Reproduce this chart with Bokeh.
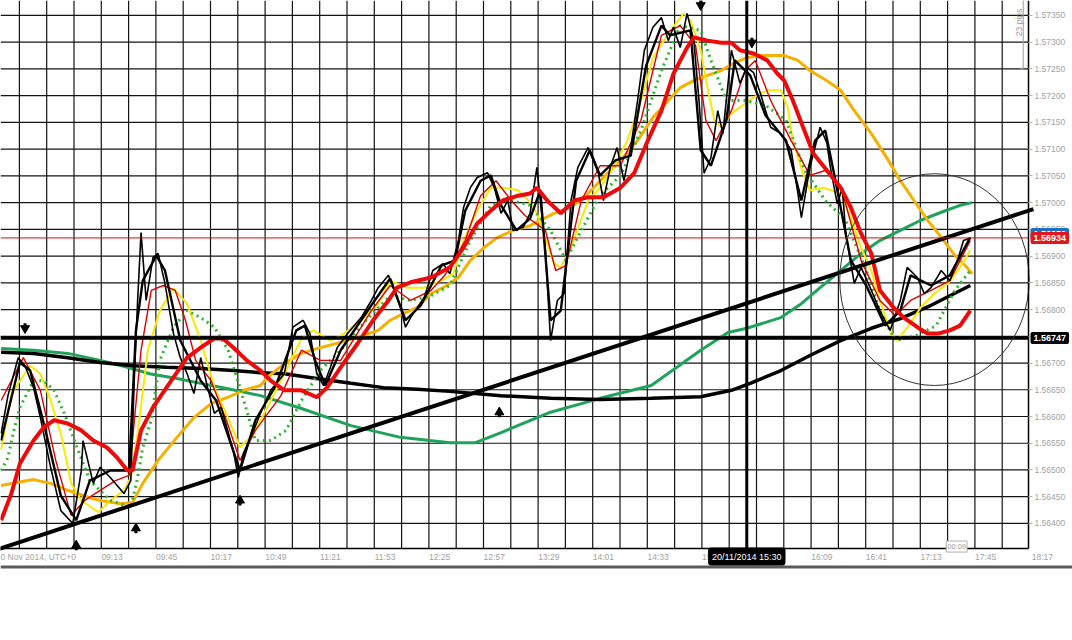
import math
from bokeh.plotting import figure
from bokeh.models import Range1d, FixedTicker, NumeralTickFormatter, Label
from bokeh.embed import file_html
from bokeh.resources import INLINE

# ---------------- data (time = minutes after 08:00, 20 Nov 2014) ----------------
price_t = [13,17,23,27,32,36,42,48,55,60, 61,67,71,77,85,89,91,93,95,98,
           102,105,109,114,118,122,126,130,134,138, 142,149,152,155,161,165,171,179,184,190,
           194,198,202,206,210,216,224,230,234,240, 243,247,250,253,261,266,272,276,281,284,
           288,292,298,302,306,310,313,319,323,327, 329,332,335,339,343,347,351,357,363,366,
           370,374,378,382,386,390,395,400,404,407, 411,415,419,422,425,429,433,436,441,446,
           450,454,458,464,470,476,480,482,487,493, 497,499,503,506,508,513,517,523,528,534,
           540,544,550,554,558,564,569,574,577,581]
price_v = [1.56568,1.56639,1.56710,1.56695,1.56654,1.56598,1.56505,1.56424,1.56400,1.56499,
           1.56555,1.56475,1.56505,1.56486,1.56456,1.56480,1.56667,1.56817,1.56944,1.56817,
           1.56897,1.56905,1.56849,1.56755,1.56710,1.56680,1.56643,1.56710,1.56654,1.56606,
           1.56617,1.56537,1.56486,1.56531,1.56574,1.56606,1.56649,1.56680,1.56767,1.56780,
           1.56755,1.56680,1.56658,1.56692,1.56729,1.56755,1.56785,1.56817,1.56841,1.56864,
           1.56841,1.56804,1.56767,1.56785,1.56823,1.56873,1.56886,1.56867,1.56929,1.56991,
           1.57028,1.57047,1.57056,1.57028,1.56980,1.57004,1.56948,1.56954,1.56980,1.57066,
           1.57004,1.56911,1.56742,1.56817,1.56830,1.57004,1.57066,1.57103,1.57055,1.57004,
           1.57066,1.57103,1.57041,1.57103,1.57191,1.57285,1.57328,1.57346,1.57303,1.57328,
           1.57290,1.57354,1.57303,1.57191,1.57055,1.57084,1.57172,1.57129,1.57285,1.57223,
           1.57253,1.57243,1.57204,1.57141,1.57129,1.57098,1.57017,1.56972,1.57066,1.57141,
           1.57111,1.57066,1.56998,1.57028,1.56942,1.56849,1.56879,1.56836,1.56798,1.56761,
           1.56817,1.56879,1.56860,1.56830,1.56841,1.56873,1.56854,1.56897,1.56929,1.56934]

fast_t = [13,24,30,39,48,57,65,77,88,92, 96,104,109,118,130,139,147,153,162,174,
          186,191,197,203,212,230,241,250,259,271, 279,285,294,300,306,315,323,329,335,341,
          350,358,364,373,382,391,400,405,417,423, 429,438,443,452,461,473,482,490,496,502,
          511,520,531,540,546,558,569,581]
fast_v = [1.56555,1.56701,1.56686,1.56574,1.56452,1.56406,1.56480,1.56499,1.56499,1.56761,
          1.56854,1.56901,1.56873,1.56742,1.56667,1.56630,1.56555,1.56499,1.56593,1.56658,
          1.56761,1.56770,1.56705,1.56658,1.56724,1.56808,1.56858,1.56780,1.56808,1.56882,
          1.56892,1.56985,1.57041,1.57051,1.56995,1.56948,1.56970,1.57023,1.56780,1.56798,
          1.57041,1.57098,1.57051,1.57079,1.57088,1.57256,1.57331,1.57313,1.57322,1.57098,
          1.57069,1.57154,1.57266,1.57238,1.57163,1.57116,1.57004,1.57116,1.57135,1.57041,
          1.56892,1.56845,1.56770,1.56798,1.56864,1.56845,1.56864,1.56935]

red_thin_t = [13,26,36,45,54,62,71,80,88,95, 101,108,115,121,127,136,145,153,162,177,
              189,200,212,230,241,253,265,273,285,294, 303,312,320,332,338,344,353,364,376,388,
              400,411,420,426,432,441,449,455,464,476, 487,496,505,517,528,537,546,558,569,581]
red_thin_v = [1.56630,1.56710,1.56649,1.56518,1.56415,1.56443,1.56462,1.56480,1.56490,1.56724,
              1.56836,1.56845,1.56836,1.56780,1.56705,1.56667,1.56593,1.56518,1.56574,1.56639,
              1.56724,1.56705,1.56705,1.56798,1.56845,1.56817,1.56836,1.56864,1.56929,1.57013,
              1.57041,1.57004,1.56976,1.56948,1.56873,1.56882,1.57004,1.57069,1.57069,1.57154,
              1.57313,1.57331,1.57294,1.57154,1.57116,1.57172,1.57247,1.57266,1.57191,1.57116,
              1.57051,1.57060,1.57032,1.56892,1.56817,1.56789,1.56817,1.56836,1.56854,1.56929]

yellow_t = [13,19,30,36,42,48,54,60,70,77, 85,89,93,99,106,114,122,130,138,146,
            153,161,171,180,189,196,206,214,224,234, 241,251,261,271,278,284,292,300,307,316,
            322,327,331,337,341,347,357,364,372,380, 388,395,404,413,417,423,427,431,435,441,
            446,454,462,470,474,477,483,487,495,505, 511,517,523,528,534,538,544,552,560,568,
            575,581]
yellow_v = [1.56537,1.56643,1.56695,1.56680,1.56630,1.56568,1.56475,1.56443,1.56421,1.56443,
            1.56462,1.56486,1.56568,1.56724,1.56798,1.56839,1.56811,1.56742,1.56654,1.56598,
            1.56542,1.56568,1.56630,1.56686,1.56746,1.56761,1.56742,1.56755,1.56780,1.56811,
            1.56854,1.56841,1.56841,1.56854,1.56867,1.56929,1.56985,1.57028,1.57028,1.57023,
            1.57004,1.56980,1.56942,1.56886,1.56879,1.56916,1.57004,1.57028,1.57066,1.57116,
            1.57191,1.57271,1.57316,1.57354,1.57341,1.57285,1.57215,1.57154,1.57141,1.57167,
            1.57178,1.57197,1.57210,1.57210,1.57178,1.57116,1.57055,1.57023,1.57028,1.57017,
            1.56972,1.56916,1.56873,1.56817,1.56761,1.56742,1.56766,1.56804,1.56830,1.56849,
            1.56879,1.56911]

dots_t = [13,17,20,24,32,38,44,50,57,65, 77,89,93,96,101,106,114,122,130,138,
          146,153,162,171,180,189,200,212,227,241, 253,265,276,288,300,312,323,335,344,353,
          364,376,388,400,411,423,429,438,449,461, 473,484,496,508,520,528,537,549,561,572,
          581]
dots_v = [1.56499,1.56523,1.56568,1.56617,1.56667,1.56667,1.56649,1.56606,1.56546,1.56480,
          1.56443,1.56430,1.56486,1.56542,1.56593,1.56705,1.56767,1.56798,1.56785,1.56767,
          1.56724,1.56654,1.56555,1.56555,1.56574,1.56630,1.56686,1.56724,1.56780,1.56826,
          1.56817,1.56826,1.56845,1.56929,1.56995,1.57004,1.56995,1.56948,1.56892,1.56948,
          1.57013,1.57051,1.57135,1.57247,1.57331,1.57322,1.57266,1.57191,1.57191,1.57182,
          1.57154,1.57060,1.57004,1.56967,1.56873,1.56798,1.56742,1.56751,1.56770,1.56836,
          1.56873]

red_thick_t = [13,19,24,32,38,44,52,60,67,75, 81,87,90,95,102,114,122,130,138,143,
               149,157,165,171,179,189,198,204,212,222, 231,240,245,253,265,276,284,292,300,307,
               316,323,327,333,341,349,357,366,376,384, 392,400,407,415,419,427,435,441,446,454,
               462,468,472,477,483,489,497,505,511,517, 523,528,536,542,550,556,562,569,575,581]
red_thick_v = [1.56406,1.56456,1.56512,1.56555,1.56580,1.56593,1.56587,1.56574,1.56555,1.56542,
               1.56523,1.56499,1.56499,1.56574,1.56617,1.56673,1.56710,1.56729,1.56746,1.56746,
               1.56729,1.56705,1.56686,1.56667,1.56649,1.56649,1.56636,1.56654,1.56692,1.56737,
               1.56780,1.56817,1.56841,1.56851,1.56860,1.56879,1.56916,1.56961,1.56985,1.57004,
               1.57013,1.57017,1.57028,1.57004,1.56980,1.57004,1.57010,1.57010,1.57028,1.57055,
               1.57116,1.57172,1.57241,1.57290,1.57309,1.57303,1.57299,1.57299,1.57285,1.57279,
               1.57266,1.57241,1.57228,1.57191,1.57141,1.57092,1.57060,1.57028,1.56991,1.56942,
               1.56905,1.56836,1.56804,1.56785,1.56767,1.56755,1.56755,1.56761,1.56770,1.56798]

orange_t = [13,23,32,42,52,64,71,83,90,96, 105,116,126,136,146,155,165,169,179,189,
            198,210,222,234,241,249,257,265,272,281, 288,296,304,313,323,337,347,357,366,376,
            386,395,404,411,419,427,435,442,450,458, 472,480,487,497,505,513,523,533,540,548,
            556,564,571,579,582]
orange_v = [1.56471,1.56477,1.56482,1.56475,1.56462,1.56449,1.56443,1.56437,1.56439,1.56475,
            1.56518,1.56561,1.56598,1.56624,1.56636,1.56649,1.56658,1.56673,1.56699,1.56718,
            1.56727,1.56737,1.56748,1.56761,1.56780,1.56793,1.56804,1.56830,1.56841,1.56860,
            1.56892,1.56916,1.56935,1.56948,1.56957,1.56980,1.56991,1.57017,1.57047,1.57079,
            1.57116,1.57159,1.57191,1.57215,1.57228,1.57238,1.57247,1.57260,1.57271,1.57275,
            1.57275,1.57266,1.57247,1.57228,1.57210,1.57172,1.57129,1.57079,1.57041,1.57004,
            1.56967,1.56935,1.56905,1.56879,1.56867]

green_t = [13,32,52,71,87,100,116,130,146,165, 189,218,247,276,291,306,335,364,394,423,
           439,450,470,482,493,505,517,528,540,552, 564,575,582]
green_v = [1.56727,1.56724,1.56718,1.56705,1.56692,1.56680,1.56671,1.56662,1.56652,1.56639,
           1.56615,1.56583,1.56561,1.56551,1.56551,1.56570,1.56608,1.56634,1.56658,1.56724,
           1.56757,1.56765,1.56785,1.56811,1.56841,1.56873,1.56905,1.56929,1.56948,1.56967,
           1.56982,1.56995,1.57000]

slow_t = [13,32,52,71,91,110,130,149,165,179, 198,218,237,257,276,306,335,364,394,423,
          441,452,470,487,505,523,540,558,581]
slow_v = [1.56720,1.56718,1.56710,1.56701,1.56695,1.56692,1.56690,1.56686,1.56682,1.56680,
          1.56671,1.56662,1.56654,1.56651,1.56647,1.56639,1.56634,1.56632,1.56634,1.56637,
          1.56649,1.56662,1.56686,1.56714,1.56742,1.56765,1.56783,1.56808,1.56845]

trend_t = [0, 618]
trend_v = [1.56340, 1.56988]
level_price = 1.56747
last_price = 1.56934
cursor_t = 450
cursor_label = "20/11/2014 15:30"
circle_t, circle_v, circle_w, circle_h = 560, 1.56856, 111, 0.00396
up_t = [57, 92, 153, 305]
up_v = [1.56359, 1.56391, 1.56443, 1.56608]
down_t = [27, 423, 453]
down_v = [1.56765, 1.57369, 1.57299]
ruler_t = 612
ruler_v = [1.57250, 1.57400]
ruler_text = "23 pips"

price_ticks = [1.56400, 1.56450, 1.56500, 1.56550, 1.56600, 1.56650, 1.56700, 1.56750,
               1.56800, 1.56850, 1.56900, 1.56950, 1.57000, 1.57050, 1.57100, 1.57150,
               1.57200, 1.57250, 1.57300, 1.57350]
time_labels = ["0 Nov 2014, UTC+0", "09:13", "09:45", "10:17", "10:49", "11:21", "11:53",
               "12:25", "12:57", "13:29", "14:01", "14:33", "15:05", "15:37", "16:09",
               "16:41", "17:13", "17:45"]
time_label_t = [41, 73, 105, 137, 169, 201, 233, 265, 297, 329, 361, 393, 425, 457, 489,
                521, 553, 585]
last_time_label, last_time_t = "18:17", 617
timer_label, timer_t = "00:09", 573

# ---------------- layout ----------------
# the plotting frame covers the whole canvas; the chart itself ends at CH_RIGHT / CH_BOTTOM,
# where the axes are pinned, leaving the label strips inside the canvas
X0, X1 = 12.63, 640.9          # canvas left / right (minutes)
Y0, Y1 = 1.56312, 1.57378      # canvas bottom / top (price)
CH_RIGHT = 615.1
CH_BOTTOM = 1.56353
FONT = "Liberation Sans"
AX_GRAY = "#a3a3a3"

p = figure(width=1072, height=570, x_range=Range1d(X0, X1), y_range=Range1d(Y0, Y1),
           y_axis_location="right", output_backend="svg", toolbar_location=None,
           min_border=0, background_fill_color="white", border_fill_color="white")
p.outline_line_color = None
p.grid.visible = False

px = (Y1 - Y0) / 570.0

# grid: a vertical line every 16 minutes, horizontal at each price tick
grid_times = [23.7 + 16 * k for k in range(37)]
p.segment(x0=grid_times, y0=[CH_BOTTOM] * len(grid_times), x1=grid_times, y1=[Y1] * len(grid_times),
          color="#141414", line_width=1.2)
p.segment(x0=[X0] * len(price_ticks), y0=price_ticks, x1=[CH_RIGHT] * len(price_ticks), y1=price_ticks,
          color="#141414", line_width=1.2)

# dark strip under the chart area (window rows 565-568)
p.quad(left=[X0], right=[X1], bottom=[CH_BOTTOM - 20 * px], top=[CH_BOTTOM - 17 * px],
       fill_color="#5b5b5b", line_color=None)

# right price axis, pinned at the chart's right edge
p.yaxis.fixed_location = CH_RIGHT
p.yaxis.bounds = (CH_BOTTOM, Y1)
p.yaxis.ticker = FixedTicker(ticks=price_ticks)
p.yaxis.formatter = NumeralTickFormatter(format="0.00000")
p.yaxis.axis_line_color = "black"
p.yaxis.axis_line_width = 1.5
p.yaxis.major_tick_out = 4
p.yaxis.major_tick_in = 0
p.yaxis.major_tick_line_color = "#b5b5b5"
p.yaxis.minor_tick_line_color = None
p.yaxis.major_label_text_color = AX_GRAY
p.yaxis.major_label_text_font = FONT
p.yaxis.major_label_text_font_size = "8.5px"
p.yaxis.major_label_standoff = 2

# bottom time axis (labels start at their tick, so the centre is shifted right)
label_pos = [33] + [t + 5 for t in time_label_t[1:]]
p.xaxis.fixed_location = CH_BOTTOM
p.xaxis.bounds = (X0, CH_RIGHT)
p.xaxis.ticker = FixedTicker(ticks=label_pos)
p.xaxis.major_label_overrides = {pos: lab for pos, lab in zip(label_pos, time_labels)}
p.xaxis.axis_line_color = "black"
p.xaxis.axis_line_width = 1.5
p.xaxis.major_tick_out = 0
p.xaxis.major_tick_in = 0
p.xaxis.minor_tick_line_color = None
p.xaxis.major_label_text_color = AX_GRAY
p.xaxis.major_label_text_font = FONT
p.xaxis.major_label_text_font_size = "8.5px"
p.xaxis.major_label_standoff = 3

# indicator lines
p.line(green_t, green_v, color="#1fa35a", line_width=3)
p.line(slow_t, slow_v, color="black", line_width=3.5)
p.line(orange_t, orange_v, color="#f5b000", line_width=3)
p.line(yellow_t, yellow_v, color="#f7ea00", line_width=2)
p.line(dots_t, dots_v, color="#2db52d", line_width=3, line_dash="2 4")
p.line(red_thin_t, red_thin_v, color="#dd0000", line_width=1.4)
p.line(fast_t, fast_v, color="black", line_width=2.4)
p.line(price_t, price_v, color="black", line_width=1.6)
p.line(red_thick_t, red_thick_v, color="#ee0a0a", line_width=4)

# drawings
p.line(trend_t, trend_v, color="black", line_width=4)
p.segment(x0=[X0], y0=[level_price], x1=[CH_RIGHT], y1=[level_price], color="black", line_width=3.5)
p.segment(x0=[X0], y0=[last_price], x1=[CH_RIGHT], y1=[last_price], color="#d01010", line_width=1)
p.segment(x0=[cursor_t], y0=[CH_BOTTOM], x1=[cursor_t], y1=[Y1], color="black", line_width=3)
p.ellipse(x=[circle_t], y=[circle_v], width=[circle_w], height=[circle_h],
          fill_color=None, line_color="#333333", line_width=1)

p.segment(x0=up_t, y0=[v - 5 * px for v in up_v], x1=up_t, y1=up_v, color="black", line_width=3)
p.scatter(up_t, up_v, marker="triangle", size=9, color="black")
p.segment(x0=down_t, y0=[v + 5 * px for v in down_v], x1=down_t, y1=down_v, color="black", line_width=3)
p.scatter(down_t, down_v, marker="inverted_triangle", size=9, color="black")

p.segment(x0=[ruler_t], y0=[ruler_v[0]], x1=[ruler_t], y1=[ruler_v[1]], color="#9a9a9a", line_width=1)
p.segment(x0=[ruler_t - 2], y0=[ruler_v[0]], x1=[ruler_t], y1=[ruler_v[0]], color="#9a9a9a", line_width=1)
p.add_layout(Label(x=ruler_t - 2.5, y=1.57337, text=ruler_text, angle=math.pi / 2,
                   text_align="center", text_baseline="middle", text_color="#9a9a9a",
                   text_font=FONT, text_font_size="8.5px"))

# price tags on the right
tag_x = CH_RIGHT + 1.2
def tag(price, txt, bg, dy=0):
    p.add_layout(Label(x=tag_x, y=price, text=txt, y_offset=dy, text_align="left",
                       text_baseline="middle", text_color="white", text_font=FONT,
                       text_font_size="9px", text_font_style="bold", background_fill_color=bg,
                       padding=3, border_radius=2))
tag(last_price, "1.56950", "#1b6fc4", dy=4)
tag(last_price, "1.56934", "#e3161d")
tag(level_price, "1.56747", "black")

p.add_layout(Label(x=cursor_t, y=CH_BOTTOM, y_offset=-8, text=cursor_label, text_align="center",
                   text_baseline="middle", text_color="white", text_font=FONT,
                   text_font_size="9px", background_fill_color="black",
                   padding=4, border_radius=3))
p.add_layout(Label(x=timer_t, y=CH_BOTTOM, y_offset=2, text=timer_label, text_align="center",
                   text_baseline="middle", text_color="#9a9a9a", text_font=FONT,
                   text_font_size="7.5px", background_fill_color="white",
                   border_line_color="#b0b0b0", padding=1))
p.add_layout(Label(x=last_time_t, y=CH_BOTTOM, y_offset=-8, text=last_time_label, text_align="left",
                   text_baseline="middle", text_color=AX_GRAY, text_font=FONT,
                   text_font_size="8.5px"))

open("out.html", "w").write(file_html(p, INLINE))
